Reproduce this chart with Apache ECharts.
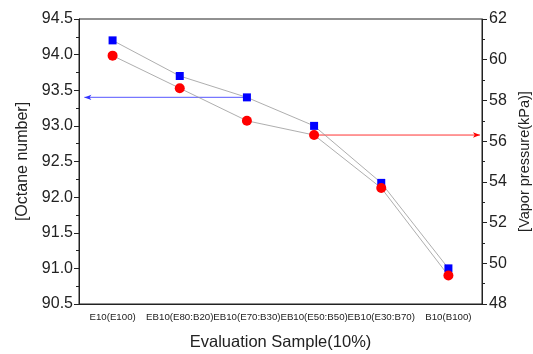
<!DOCTYPE html>
<html>
<head>
<meta charset="utf-8">
<script src="https://cdn.jsdelivr.net/npm/echarts@6/dist/echarts.min.js"></script>
<style>html,body{margin:0;padding:0;background:#fff}#c{width:533px;height:354px}</style>
</head>
<body>
<div id="c"></div>
<script>
const categories = ['E10(E100)', 'EB10(E80:B20)', 'EB10(E70:B30)', 'EB10(E50:B50)', 'EB10(E30:B70)', 'B10(B100)'];
const octane = [94.2, 93.7, 93.4, 93.0, 92.2, 91.0];
const vapor = [60.2, 58.6, 57.0, 56.3, 53.7, 49.4];
// arrows on a hidden 0..6 value x-axis (category i centre = i + 0.5)
const octaneArrow = [[2.5, 93.4], [0.08, 93.4]];
const vaporArrow = [[3.5, 56.3], [5.97, 56.3]];

const font = 'Liberation Sans, Arial, sans-serif';
const chart = echarts.init(document.getElementById('c'));
chart.setOption({
  animation: false,
  grid: { left: 79, right: 51, top: 19, bottom: 50, show: true, borderColor: '#222', borderWidth: 1, containLabel: false, outerBoundsMode: 'none' },
  xAxis: [
    {
      type: 'category', data: categories, boundaryGap: true,
      axisLine: { lineStyle: { color: '#222', width: 1 } },
      axisTick: { alignWithLabel: true, length: 4, lineStyle: { color: '#222' } },
      axisLabel: { fontFamily: font, fontSize: 9.7, color: '#222', margin: 8, interval: 0 },
      name: 'Evaluation Sample(10%)', nameLocation: 'middle', nameGap: 30,
      nameTextStyle: { fontFamily: font, fontSize: 16.5, color: '#222' }
    },
    { type: 'value', min: 0, max: 6, show: false }
  ],
  yAxis: [
    {
      type: 'value', min: 90.5, max: 94.5, interval: 0.5,
      axisLine: { show: true, lineStyle: { color: '#222' } },
      axisTick: { show: true, length: 5, lineStyle: { color: '#222' } },
      minorTick: { show: true, splitNumber: 2, length: 3, lineStyle: { color: '#222' } },
      splitLine: { show: false },
      axisLabel: { fontFamily: font, fontSize: 16, color: '#222', margin: 6, formatter: v => v.toFixed(1) },
      name: '[Octane number]', nameLocation: 'middle', nameGap: 44, nameRotate: 90,
      nameTextStyle: { fontFamily: font, fontSize: 16, color: '#222' }
    },
    {
      type: 'value', min: 48, max: 62, interval: 2, position: 'right',
      axisLine: { show: true, lineStyle: { color: '#222' } },
      axisTick: { show: true, length: 5, lineStyle: { color: '#222' } },
      minorTick: { show: true, splitNumber: 2, length: 3, lineStyle: { color: '#222' } },
      splitLine: { show: false },
      axisLabel: { fontFamily: font, fontSize: 16, color: '#222', margin: 7 },
      name: '[Vapor pressure(kPa)]', nameLocation: 'middle', nameGap: 23, nameRotate: 90,
      nameTextStyle: { fontFamily: font, fontSize: 14.5, color: '#222' }
    }
  ],
  series: [
    {
      type: 'line', data: octane, yAxisIndex: 0, xAxisIndex: 0,
      symbol: 'rect', symbolSize: 8,
      itemStyle: { color: '#0000ff' },
      lineStyle: { color: '#999', width: 0.8 }, z: 3
    },
    {
      type: 'line', data: vapor, yAxisIndex: 1, xAxisIndex: 0,
      symbol: 'circle', symbolSize: 10,
      itemStyle: { color: '#ff0000' },
      lineStyle: { color: '#999', width: 0.8 }, z: 3
    },
    {
      type: 'line', data: octaneArrow, xAxisIndex: 1, yAxisIndex: 0,
      showSymbol: false, symbol: 'none', lineStyle: { color: '#7777ff', width: 1.2 }, z: 2,
      markPoint: {
        symbol: 'arrow', symbolSize: [4, 7], symbolRotate: 90, silent: true,
        itemStyle: { color: '#3333ff' }, label: { show: false },
        data: [{ coord: octaneArrow[1] }]
      }
    },
    {
      type: 'line', data: vaporArrow, xAxisIndex: 1, yAxisIndex: 1,
      showSymbol: false, symbol: 'none', lineStyle: { color: '#ff3333', width: 1 }, z: 2,
      markPoint: {
        symbol: 'arrow', symbolSize: [4, 7], symbolRotate: -90, silent: true,
        itemStyle: { color: '#ff0000' }, label: { show: false },
        data: [{ coord: vaporArrow[1] }]
      }
    }
  ]
});
</script>
</body>
</html>
